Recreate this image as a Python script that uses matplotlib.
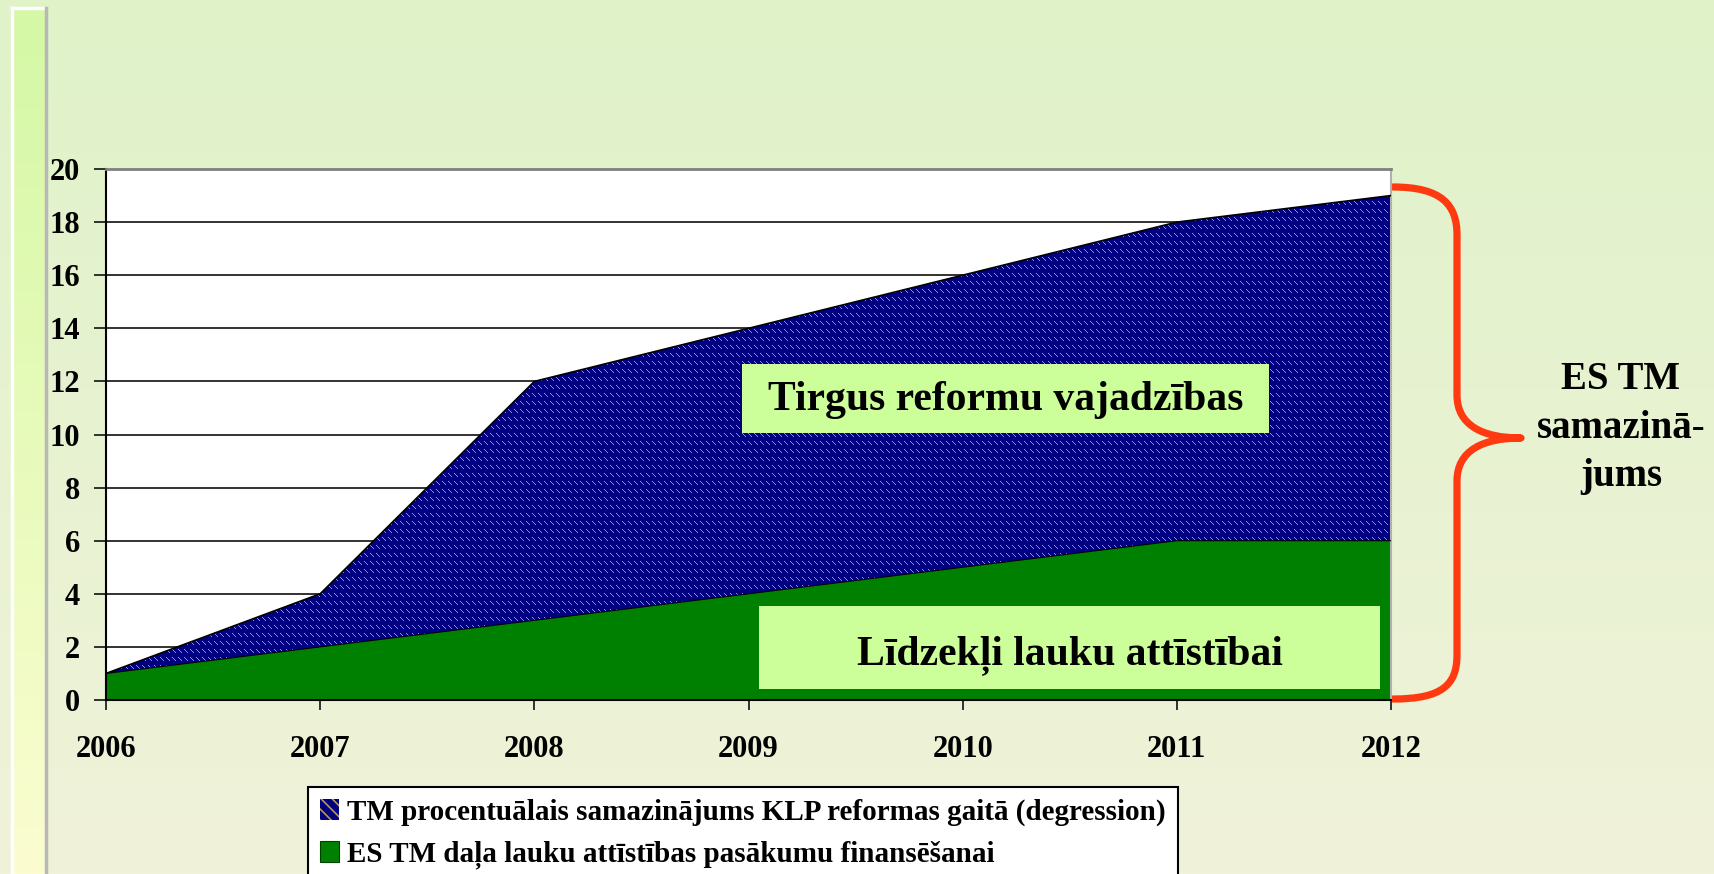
import numpy as np
import matplotlib
matplotlib.use("Agg")
import matplotlib.pyplot as plt
from matplotlib.patches import Patch, Rectangle, PathPatch
from matplotlib.path import Path

# Dati
gadi = [2006, 2007, 2008, 2009, 2010, 2011, 2012]
lauku_attistiba = [1, 2, 3, 4, 5, 6, 6]          # zaļā daļa
kopa = [1, 4, 12, 14, 16, 18, 19]                # augšējā robeža
y_ticks = [0, 2, 4, 6, 8, 10, 12, 14, 16, 18, 20]

legend_labels = ["TM procentuālais samazinājums KLP reformas gaitā (degression)",
                 "ES TM daļa lauku attīstības pasākumu finansēšanai"]

W, H = 1715, 874
SERIF = "Liberation Serif"
NAVY = "#000080"
GOLD = "#b89a48"
GREEN = "#008000"
BOX = "#ccff99"
RED = "#ff3a10"

plt.rcParams["hatch.linewidth"] = 1.2

fig = plt.figure(figsize=(W / 100, H / 100), dpi=100)

# fons ar gradientu
bg = fig.add_axes([0, 0, 1, 1], zorder=-5)
bg.axis("off")
grad = np.linspace(0, 1, 256).reshape(-1, 1)
c_top = np.array([0xdf, 0xf2, 0xc8]) / 255
c_bot = np.array([0xf0, 0xf2, 0xda]) / 255
bg.imshow(c_top + (c_bot - c_top) * grad[..., None], extent=(0, W, H, 0), aspect="auto")
s_top = np.array([0xd4, 0xf8, 0xa5]) / 255
s_bot = np.array([0xfb, 0xfd, 0xd0]) / 255
bg.imshow(s_top + (s_bot - s_top) * grad[..., None], extent=(13, 45, H, 8), aspect="auto")
bg.plot([12, 12], [8, H], color="white", lw=2.5)
bg.plot([12, 45], [8, 8], color="white", lw=2.5)
bg.plot([46, 46], [8, H], color="#b8b8b8", lw=2.5)
bg.set_xlim(0, W)
bg.set_ylim(H, 0)

# galvenais grafiks
ax_l, ax_r, ax_t, ax_b = 106, 1391, 169, 700
ax = fig.add_axes([ax_l / W, 1 - ax_b / H, (ax_r - ax_l) / W, (ax_b - ax_t) / H])
ax.set_facecolor("white")

ax.fill_between(gadi, 0, lauku_attistiba, facecolor=GREEN, edgecolor="none", zorder=2)
upper = ax.fill_between(gadi, lauku_attistiba, kopa, facecolor=NAVY, edgecolor="none",
                        linewidth=0, zorder=2)

# svītrojums: tumši zils ar zeltainām īsām svītriņām rindās
ny, nx = ax_b - ax_t, ax_r - ax_l
yy, xx = np.mgrid[0:ny, 0:nx]
r, c = yy % 8, xx % 6
mask = (r == c) & (r < 4)
tex = np.zeros((ny, nx, 3))
tex[:] = np.array([0x00, 0x00, 0x80]) / 255
tex[mask] = np.array([0xb8, 0x9a, 0x48]) / 255
im = ax.imshow(tex, extent=(2006, 2012, 0, 20), aspect="auto",
               interpolation="nearest", zorder=2.1)
im.set_clip_path(upper.get_paths()[0], transform=ax.transData)

ax.plot(gadi, kopa, color="black", lw=1.2, zorder=3)
ax.plot(gadi, lauku_attistiba, color="black", lw=0.8, zorder=3)

ax.set_xlim(2006, 2012)
ax.set_ylim(0, 20)
ax.set_yticks(y_ticks)
ax.set_xticks(gadi)
ax.yaxis.grid(True, color="#222222", lw=1.3, zorder=1)
ax.set_axisbelow(True)
for lab in ax.get_xticklabels() + ax.get_yticklabels():
    lab.set_fontfamily(SERIF)
    lab.set_fontweight("bold")
    lab.set_fontsize(22)
ax.tick_params(axis="y", length=8.6, width=1.3, pad=10, color="#222222")
ax.tick_params(axis="x", length=7.5, width=1.3, pad=18, color="#222222")
ax.spines["left"].set_color("black")
ax.spines["left"].set_linewidth(1.5)
ax.spines["bottom"].set_color("black")
ax.spines["bottom"].set_linewidth(1.5)
ax.spines["top"].set_color("#808080")
ax.spines["top"].set_linewidth(2)
ax.spines["right"].set_color("#b0b0b0")
ax.spines["right"].set_linewidth(1.5)

# uzraksti kastēs
ax.add_patch(Rectangle((2008.97, 10.05), 2.46, 2.6, facecolor=BOX, edgecolor="none", zorder=4))
ax.text(2010.2, 11.3, "Tirgus reformu vajadzības", ha="center", va="center",
        fontsize=30, fontweight="bold", family=SERIF, zorder=5)
ax.add_patch(Rectangle((2009.05, 0.42), 2.9, 3.12, facecolor=BOX, edgecolor="none", zorder=4))
ax.text(2010.5, 1.7, "Līdzekļi lauku attīstībai", ha="center", va="center",
        fontsize=30, fontweight="bold", family=SERIF, zorder=5)

# figūriekava
pts = [(1393, 187), (1442, 187), (1457, 205), (1457, 235),
       (1457, 395),
       (1457, 425), (1482, 438), (1521, 438),
       (1482, 438), (1457, 451), (1457, 481),
       (1457, 655),
       (1457, 685), (1442, 699), (1393, 699)]
codes = [Path.MOVETO, Path.CURVE4, Path.CURVE4, Path.CURVE4,
         Path.LINETO,
         Path.CURVE4, Path.CURVE4, Path.CURVE4,
         Path.CURVE4, Path.CURVE4, Path.CURVE4,
         Path.LINETO,
         Path.CURVE4, Path.CURVE4, Path.CURVE4]
bg.add_patch(PathPatch(Path(pts, codes), facecolor="none", edgecolor=RED,
                       lw=5.2, capstyle="round", joinstyle="round", zorder=10))
fig.text(1621 / W, 1 - 428 / H, "ES TM\nsamazinā-\njums", ha="center", va="center",
         fontsize=28, fontweight="bold", family=SERIF, linespacing=1.42)

# leģenda
handles = [Patch(facecolor=NAVY, edgecolor=GOLD, hatch="\\\\\\", linewidth=0),
           Patch(facecolor=GREEN, edgecolor="#004000", linewidth=0.8)]
leg = fig.legend(handles, legend_labels, loc="upper left",
                 bbox_to_anchor=(308 / W, 1 - 787 / H),
                 prop={"family": SERIF, "weight": "bold", "size": 21},
                 frameon=True, fancybox=False, framealpha=1, edgecolor="black",
                 handlelength=0.65, handleheight=0.7, handletextpad=0.3,
                 labelspacing=0.5, borderpad=0.4, borderaxespad=0)
leg.get_frame().set_linewidth(1.5)

fig.savefig("out.png", dpi=100)
